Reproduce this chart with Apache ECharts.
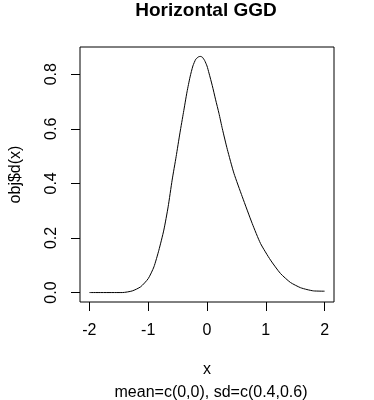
<!DOCTYPE html>
<html><head><meta charset="utf-8">
<script src="https://cdn.jsdelivr.net/npm/echarts@6/dist/echarts.min.js"></script>
<style>html,body{margin:0;padding:0;background:#fff}#c{width:374px;height:400px}</style>
</head><body><div id="c"></div>
<script>
var xs = [-2.0, -1.44, -1.271, -1.129, -1.0, -0.903, -0.819, -0.734, -0.661, -0.593, -0.525, -0.46, -0.40, -0.34, -0.288, -0.24, -0.19, -0.14, -0.107, -0.078, -0.04, 0.0, 0.034, 0.09, 0.147, 0.203, 0.261, 0.345, 0.458, 0.60, 0.769, 0.91, 1.08, 1.249, 1.419, 1.588, 1.70, 1.814, 2.0];
var ys = [0.0, 0.0, 0.006, 0.021, 0.051, 0.094, 0.155, 0.229, 0.314, 0.412, 0.498, 0.585, 0.66, 0.735, 0.79, 0.83, 0.855, 0.864, 0.865, 0.862, 0.85, 0.83, 0.804, 0.758, 0.706, 0.657, 0.600, 0.525, 0.437, 0.351, 0.253, 0.18, 0.119, 0.07, 0.037, 0.018, 0.011, 0.006, 0.005];
var xTicks = [-2, -1, 0, 1, 2];
var yTicks = [0, 0.2, 0.4, 0.6, 0.8];
var titleText = "Horizontal GGD";
var subText = "mean=c(0,0), sd=c(0.4,0.6)";
var xName = "x", yName = "obj$d(x)";

var data = xs.map(function (x, i) { return [x, ys[i]]; });
var chart = echarts.init(document.getElementById('c'));
var font = 'Liberation Sans, Arial, sans-serif';
chart.setOption({
  animation: false,
  title: [
    { text: titleText, left: 206, textAlign: 'center', top: 1, padding: 0, textStyle: { fontFamily: font, fontWeight: 'bold', fontSize: 19, color: '#000' } },
    { text: subText, left: 206, top: 380, textAlign: 'center', textStyle: { fontFamily: font, fontWeight: 'normal', fontSize: 16, color: '#000' } }
  ],
  grid: { left: 78, right: 40, top: 47, bottom: 98, show: true, borderColor: '#000', borderWidth: 1, backgroundColor: 'transparent' },
  xAxis: {
    type: 'value', min: -2.16, max: 2.16,
    name: xName, nameLocation: 'middle', nameGap: 60,
    nameTextStyle: { fontFamily: font, fontSize: 16, color: '#000' },
    axisLine: { show: false, onZero: false },
    splitLine: { show: false },
    axisTick: { show: true, length: 9, customValues: xTicks, lineStyle: { color: '#000' } },
    axisLabel: { customValues: xTicks, margin: 21, fontFamily: font, fontSize: 16, color: '#000' }
  },
  yAxis: {
    type: 'value', min: -0.0346, max: 0.8996,
    name: yName, nameLocation: 'middle', nameGap: 56, nameRotate: 90,
    nameTextStyle: { fontFamily: font, fontSize: 16, color: '#000' },
    axisLine: { show: false, onZero: false },
    splitLine: { show: false },
    axisTick: { show: true, length: 9, customValues: yTicks, lineStyle: { color: '#000' } },
    axisLabel: { customValues: yTicks, rotate: 90, margin: 20, fontFamily: font, fontSize: 16, color: '#000',
      formatter: function (v) { return v.toFixed(1); } }
  },
  series: [{
    type: 'line', data: data, showSymbol: false, symbol: 'none', smooth: 0.2,
    lineStyle: { color: '#000', width: 1 }
  }]
});
</script></body></html>
